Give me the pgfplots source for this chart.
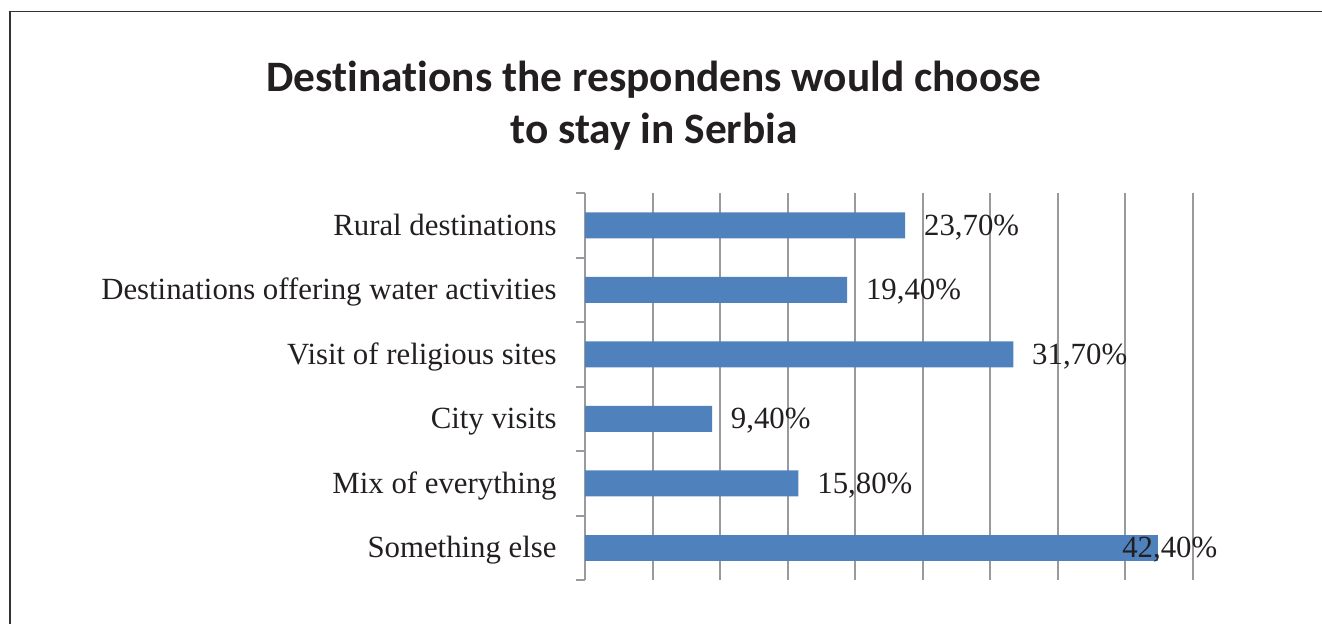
\documentclass[border=0pt]{standalone}
\usepackage{pgfplots}
\pgfplotsset{compat=1.18}
\usepackage{fontspec}
\setmainfont{Liberation Serif}
\newfontfamily\titlefont[Ligatures={NoCommon}]{Carlito}
\definecolor{barblue}{HTML}{4F81BD}
\definecolor{gridgray}{HTML}{9A9A9E}
\definecolor{txt}{HTML}{231F20}
\begin{document}
\begin{tikzpicture}
\useasboundingbox (0,0) rectangle (661pt,311.5pt);
\draw[color=black!80, line width=0.75pt] (5pt,-5pt) -- (5pt,305.75pt) -- (670pt,305.75pt);
\node[anchor=base, font=\titlefont\bfseries\fontsize{21.7}{25}\selectfont, text=txt, inner sep=0pt] at (327pt,266pt) {Destinations the respondens would choose};
\node[anchor=base, font=\titlefont\bfseries\fontsize{21.7}{25}\selectfont, text=txt, inner sep=0pt] at (327pt,240pt) {to stay in Serbia};
\begin{axis}[at={(292.5pt,21.5pt)}, anchor=south west, scale only axis,
  width=304pt, height=193.5pt,
  xmin=0, xmax=45, ymin=-0.5, ymax=5.5,
  axis lines*=left,
  x axis line style={draw=none},
  y axis line style={draw=gridgray, line width=1pt},
  xtick={0,5,...,45}, xticklabels={},
  xmajorgrids, major grid style={draw=gridgray, line width=1pt},
  ytick={0,...,5},
  yticklabels={Something else, Mix of everything, City visits, Visit of religious sites, Destinations offering water activities, Rural destinations},
  minor ytick={-0.5,0.5,...,5.5},
  major tick length=0pt, minor tick length=4.5pt, tick align=outside,
  minor tick style={draw=gridgray, line width=1pt},
  yticklabel style={font=\fontsize{15.4}{18}\selectfont, text=txt, inner sep=0pt, text height=10.2pt, text depth=0pt, anchor=east, xshift=-14pt},
  /pgf/number format/assume math mode=true,
  xbar, bar width=13pt, bar shift=0pt,
  clip=false,
  nodes near coords={\pgfmathprintnumber[fixed, fixed zerofill, precision=2, use comma]{\pgfplotspointmeta}\%},
  point meta=x,
]
\addplot[fill=barblue, draw=none,
  every node near coord/.append style={anchor=west, xshift=9.25pt, inner sep=0pt, font=\fontsize{15.4}{18}\selectfont, text=txt, text height=10.2pt, text depth=0pt}]
  coordinates {(15.8,1) (9.4,2) (31.7,3) (19.4,4) (23.7,5)};
\addplot[fill=barblue, draw=none,
  every node near coord/.append style={anchor=west, xshift=-18pt, inner sep=0pt, font=\fontsize{15.4}{18}\selectfont, text=txt, text height=10.2pt, text depth=0pt}]
  coordinates {(42.4,0)};
\end{axis}
\end{tikzpicture}
\end{document}
